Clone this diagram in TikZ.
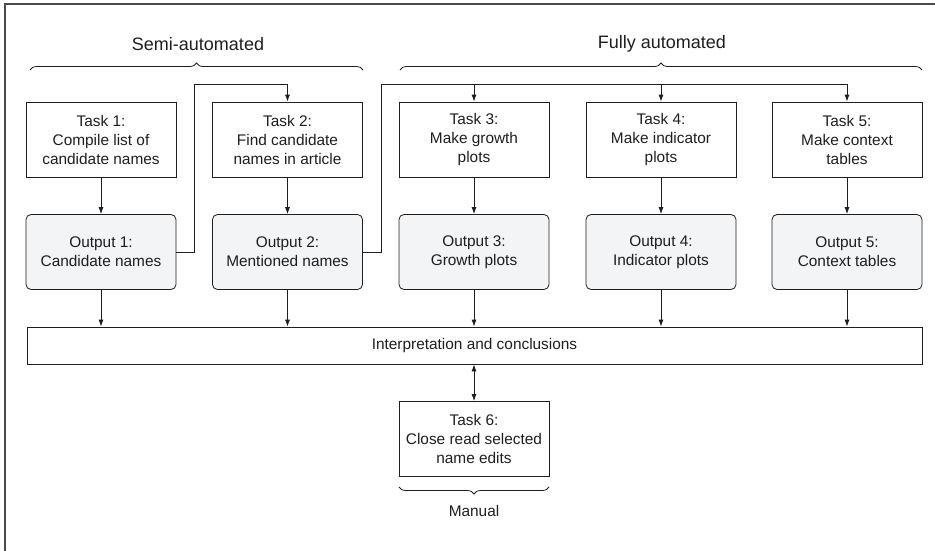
\documentclass[tikz,border=0pt]{standalone}
\usepackage{fontspec}
\setmainfont{Liberation Sans}
\usetikzlibrary{arrows.meta,decorations.pathreplacing}
\definecolor{outfill}{RGB}{243,244,246}
\definecolor{ink}{RGB}{30,30,30}
\begin{document}
\begin{tikzpicture}[x=1pt,y=-1pt,
  txt/.style={font=\fontsize{15.4}{19}\selectfont, text=ink},
  taskbox/.style={draw=ink, line width=0.8pt, minimum width=150pt, minimum height=75pt, align=center, inner sep=2pt, txt},
  outbox/.style={taskbox, fill=outfill, rounded corners=5pt},
  arr/.style={draw=ink, line width=0.8pt, -{Latex[length=7pt,width=5pt]}},
  brc/.style={draw=ink, line width=0.8pt, decorate, decoration={brace, amplitude=7pt}},
  lbl/.style={font=\fontsize{18}{22}\selectfont, text=ink}]
\useasboundingbox (0,0) rectangle (935,550);
\draw[line width=1.3pt, draw=black!70] (5,552) -- (5,4) -- (937,4);
% braces
\draw[brc] (30,70) -- (363,70);
\node[lbl] (semi) at (198,44) {Semi-automated};
\draw[brc] (400,70) -- (922,70);
\node[lbl] (fully) at (662,44) {Fully automated};
% tasks
\node[taskbox] (t1) at (101,139.5) {Task 1:\\Compile list of\\candidate names};
\node[taskbox] (t2) at (287.5,139.5) {Task 2:\\Find candidate\\names in article};
\node[taskbox] (t3) at (474,139.5) {Task 3:\\Make growth\\plots};
\node[taskbox] (t4) at (661,139.5) {Task 4:\\Make indicator\\plots};
\node[taskbox] (t5) at (847,139.5) {Task 5:\\Make context\\tables};
% outputs
\node[outbox] (o1) at (101,252) {Output 1:\\Candidate names};
\node[outbox] (o2) at (287.5,252) {Output 2:\\Mentioned names};
\node[outbox] (o3) at (474,252) {Output 3:\\Growth plots};
\node[outbox] (o4) at (661,252) {Output 4:\\Indicator plots};
\node[outbox] (o5) at (847,252) {Output 5:\\Context tables};
% interpretation
\node[draw=ink, line width=0.8pt, minimum width=895pt, minimum height=37pt, txt] (ic) at (474.5,345.5) {Interpretation and conclusions};
% task 6
\node[taskbox] (t6) at (474,439) {Task 6:\\Close read selected\\name edits};
\draw[brc] (549,487) -- (399,487);
\node[txt] (man) at (474,511) {Manual};
% connectors
\foreach \i in {1,...,5}{
  \draw[arr] (t\i.south) -- (o\i.north);
  \draw[arr] (o\i.south) -- (o\i.south |- ic.north);
}
\coordinate (bus1) at (194,84);
\coordinate (bus2) at (381,84);
\draw[arr] (o1.east) -| (bus1) -| (t2.north);
\draw[arr] (o2.east) -| (bus2) -| (t3.north);
\draw[arr] (bus2) -| (t4.north);
\draw[arr] (bus2) -| (t5.north);
\draw[draw=ink, line width=0.8pt, {Latex[length=7pt,width=5pt]}-{Latex[length=7pt,width=5pt]}] (ic.south -| t6.north) -- (t6.north);
\end{tikzpicture}
\end{document}
